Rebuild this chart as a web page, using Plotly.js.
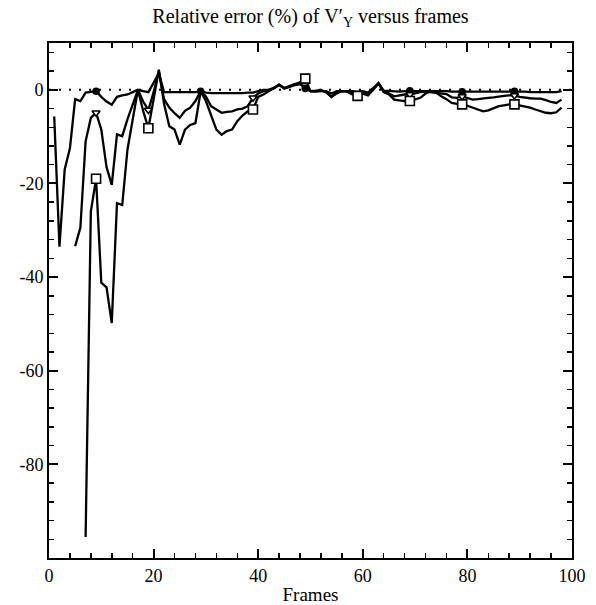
<!DOCTYPE html>
<html>
<head>
<meta charset="utf-8">
<script src="https://cdn.plot.ly/plotly-3.0.1.min.js"></script>
<style>
  html, body { margin: 0; padding: 0; background: #fff; }
  #chart { width: 596px; height: 605px; }
</style>
</head>
<body>
<div id="chart"></div>
<script>
// Relative error (%) of V'_Y for three estimators, frame by frame.

// Estimator drawn with open squares
const framesSquare = [7,8,9,10,11,12,13,14,15,16,17,18,19,20,21,22,23,24,25,26,27,28,29,30,31,32,33,34,35,36,37,38,39,40,41,42,43,44,45,46,47,48,49,50,51,52,53,54,55,56,57,58,59,60,61,62,63,64,65,66,67,68,69,70,71,72,73,74,75,76,77,78,79,80,81,82,83,84,85,86,87,88,89,90,91,92,93,94,95,96,97,98];
const errSquare = [-95.5,-26,-19,-41.2,-42.2,-49.8,-24.2,-24.6,-12.8,-6,0,-4.5,-8.2,-2,4.3,-3,-7.8,-8.5,-11.7,-8.5,-7.5,-7.1,-0.3,-2.4,-5.3,-8.5,-9.6,-8.8,-8.5,-6.7,-5.5,-4.6,-4.2,-1.5,-1,-0.3,0.3,1.1,0.4,0.8,1.3,1.6,2.4,-0.3,-0.4,-0.2,-0.5,-1.5,-0.8,-0.3,-0.4,-1,-1.3,-0.8,-1.2,0,1.4,-0.5,-1,-2.1,-2.3,-2.4,-2.4,-2.1,-1.7,-0.8,-0.3,-0.6,-1.4,-2,-2.8,-3,-3.1,-3.4,-3.8,-4.2,-4.6,-4.4,-4,-3.5,-3.3,-3.1,-3.1,-3.3,-3.5,-3.8,-4.2,-4.5,-4.9,-5,-4.8,-3.8];

// Estimator drawn with open down-triangles
const framesTriangle = [5,6,7,8,9,10,11,12,13,14,15,16,17,18,19,20,21,22,23,24,25,26,27,28,29,30,31,32,33,34,35,36,37,38,39,40,41,42,43,44,45,46,47,48,49,50,51,52,53,54,55,56,57,58,59,60,61,62,63,64,65,66,67,68,69,70,71,72,73,74,75,76,77,78,79,80,81,82,83,84,85,86,87,88,89,90,91,92,93,94,95,96,97,98];
const errTriangle = [-33.4,-29.4,-11,-6,-4.9,-8.5,-16.5,-20.3,-9.5,-9.9,-6.3,-3,0,-2.5,-4.3,-0.5,4,-2,-3.8,-5,-6,-4.5,-3.8,-2.4,-0.3,-1.4,-3.5,-4.2,-4.9,-4.7,-4.6,-4.2,-4,-3.5,-1.7,-0.8,-0.3,0,0.4,1.1,0.3,0.7,1.2,1.3,0.5,-0.3,-0.2,0,-0.5,-1.5,-0.5,-0.3,-0.3,-0.8,-1.2,-0.6,-1.1,0,1.4,-0.4,-0.8,-1.4,-1.2,-1,-1,-0.7,-0.5,-0.4,-0.5,-0.6,-0.7,-0.9,-1.6,-1.7,-1.4,-1.7,-2.1,-2,-1.8,-1.7,-1.6,-1.4,-1.3,-1.2,-1.2,-1.5,-1.7,-1.8,-1.9,-1.9,-2.2,-2.6,-2.8,-2.1];

// Estimator drawn with filled circles
const framesCircle = [1,2,3,4,5,6,7,8,9,10,11,12,13,14,15,16,17,18,19,20,21,22,23,24,25,26,27,28,29,30,31,32,33,34,35,36,37,38,39,40,41,42,43,44,45,46,47,48,49,50,51,52,53,54,55,56,57,58,59,60,61,62,63,64,65,66,67,68,69,70,71,72,73,74,75,76,77,78,79,80,81,82,83,84,85,86,87,88,89,90,91,92,93,94,95,96,97,98];
const errCircle = [-5.7,-33.5,-17,-12.5,-2,-2.4,-0.6,-0.4,-0.3,-1.5,-2.5,-3.2,-1.5,-1.2,-1,-0.5,0,-0.3,-0.5,1.5,3.5,-0.5,-0.5,-0.6,-0.6,-0.5,-0.5,-0.5,-0.3,-0.6,-0.7,-0.7,-0.8,-0.8,-0.7,-0.7,-0.7,-0.6,-0.6,-0.3,0,0,0.3,1,0.3,0.6,1,1.2,0.3,-0.3,-0.3,-0.3,-0.3,-0.8,-0.3,-0.3,-0.3,-0.3,-0.5,-0.3,-0.6,0.3,1.4,-0.2,-0.3,-0.4,-0.4,-0.3,-0.2,-0.3,-0.3,-0.2,-0.2,-0.3,-0.3,-0.3,-0.4,-0.4,-0.4,-0.3,-0.3,-0.4,-0.4,-0.4,-0.4,-0.3,-0.3,-0.3,-0.3,-0.4,-0.4,-0.5,-0.5,-0.5,-0.6,-0.6,-0.5,-0.3];

// Frames that carry a symbol on each curve
const markSquare = [9,19,39,49,59,69,79,89];
const markTriangle = [9,19,39,69,79,89];
const markCircle = [9,29,49,69,79,89];

// Axis ticks
const xTickVals = [0,20,40,60,80,100];
const xTickText = ['0','20','40','60','80','100'];
const yTickVals = [0,-20,-40,-60,-80];
const yTickText = ['0','-20','-40','-60','-80'];

const serif = '"Liberation Serif", "DejaVu Serif", serif';

function curve(frames, errs) {
  return {
    type: 'scatter',
    mode: 'lines',
    x: frames,
    y: errs,
    line: { color: '#000', width: 2.3 },
    showlegend: false,
    hoverinfo: 'x+y'
  };
}

function symbols(frames, errs, marks, symbol, size, fill) {
  const xs = [], ys = [];
  frames.forEach((f, i) => { if (marks.includes(f)) { xs.push(f); ys.push(errs[i]); } });
  return {
    type: 'scatter',
    mode: 'markers',
    x: xs,
    y: ys,
    marker: { symbol: symbol, size: size, color: fill, opacity: 1, line: { color: '#000', width: 1.6 } },
    showlegend: false,
    hoverinfo: 'x+y'
  };
}

const traces = [
  curve(framesCircle, errCircle),
  curve(framesTriangle, errTriangle),
  curve(framesSquare, errSquare),
  symbols(framesCircle, errCircle, markCircle, 'circle', 6, '#000000'),
  symbols(framesTriangle, errTriangle, markTriangle, 'triangle-down', 7, '#ffffff'),
  symbols(framesSquare, errSquare, markSquare, 'square', 9, '#ffffff')
];

const axisCommon = {
  showgrid: false,
  zeroline: false,
  showline: true,
  linecolor: '#000',
  linewidth: 2,
  mirror: 'ticks',
  ticks: 'inside',
  ticklen: 9,
  tickwidth: 2,
  tickcolor: '#000',
  tickfont: { family: serif, size: 18, color: '#000' },
  minor: { ticks: 'inside', ticklen: 5, tickwidth: 1.5, tickcolor: '#000', tick0: 0, dtick: 4, showgrid: false }
};

const layout = {
  width: 596,
  height: 605,
  margin: { l: 49, r: 24, t: 43, b: 47 },
  paper_bgcolor: '#fff',
  plot_bgcolor: '#fff',
  title: {
    text: 'Relative error (%) of V′<sub>Y</sub> versus frames',
    font: { family: serif, size: 20, color: '#000' },
    x: 0.5,
    xref: 'paper',
    xanchor: 'center',
    y: 1 - 16 / 605,
    yref: 'container',
    yanchor: 'middle'
  },
  xaxis: Object.assign({}, axisCommon, {
    range: [0, 100],
    tickmode: 'array',
    tickvals: xTickVals,
    ticktext: xTickText,
    title: { text: 'Frames', font: { family: serif, size: 19, color: '#000' }, standoff: 5 }
  }),
  yaxis: Object.assign({}, axisCommon, {
    range: [-100, 10],
    tickmode: 'array',
    tickvals: yTickVals,
    ticktext: yTickText
  }),
  shapes: [{
    type: 'line', xref: 'x', yref: 'y',
    x0: 0, x1: 100, y0: 0, y1: 0,
    line: { color: '#000', width: 2, dash: '2px,8px' },
    layer: 'below'
  }]
};

Plotly.newPlot('chart', traces, layout, { staticPlot: true, displayModeBar: false });
</script>
</body>
</html>
